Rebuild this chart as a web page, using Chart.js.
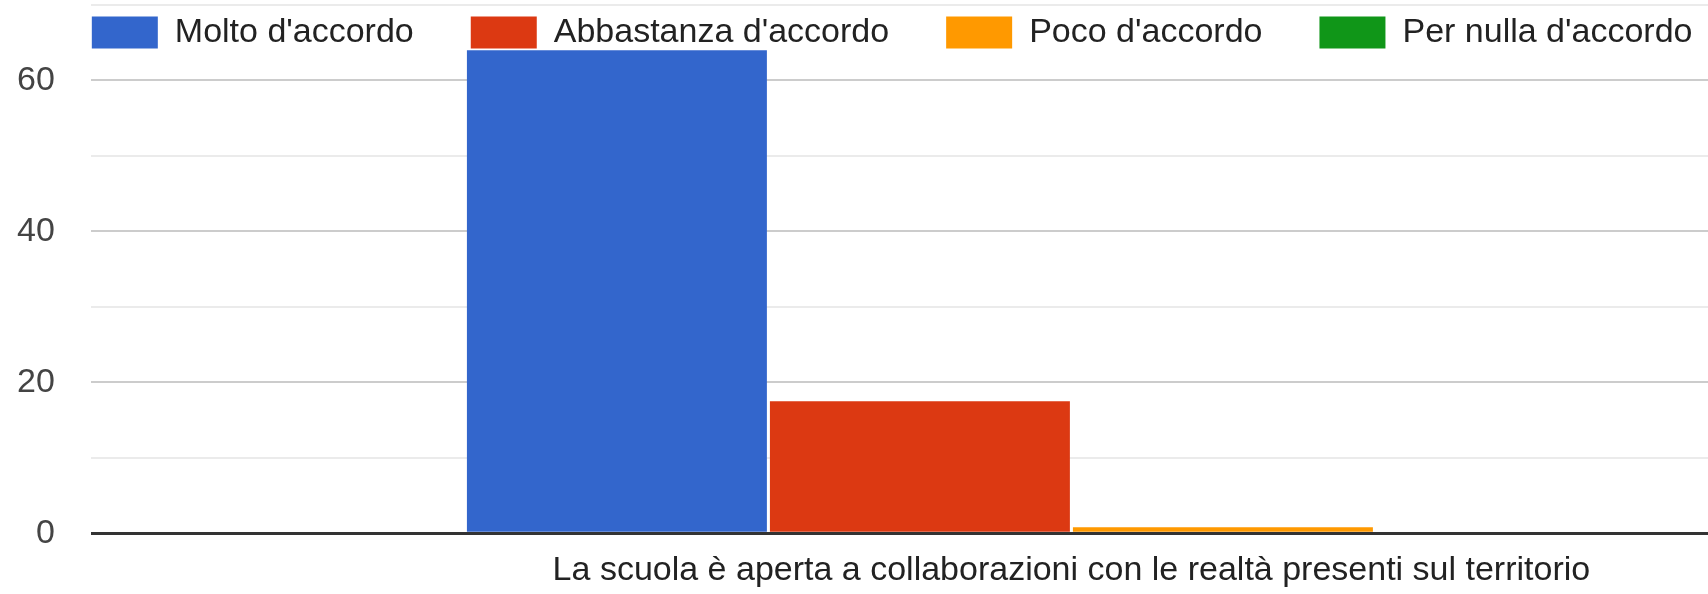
<!DOCTYPE html>
<html>
<head>
<meta charset="utf-8">
<script src="https://cdn.jsdelivr.net/npm/chart.js@4"></script>
<style>
  html, body { margin: 0; padding: 0; overflow: hidden; background: #fff; }
  #wrap { width: 2052px; height: 594px; position: relative; }
</style>
</head>
<body>
<div id="wrap"><canvas id="grafico"></canvas></div>
<script>
// dati
const categorie = ["La scuola è aperta a collaborazioni con le realtà presenti sul territorio"];
const serie = ["Molto d'accordo", "Abbastanza d'accordo", "Poco d'accordo", "Per nulla d'accordo"];
const molto = [64];
const abbastanza = [17.5];
const poco = [0.8];
const perNulla = [0];
const yMax = 70;
const yPasso = 10;

const colori = ["#3366cc", "#dc3912", "#ff9900", "#109618"];
const valori = [molto, abbastanza, poco, perNulla];
const font = "'Liberation Sans', Arial, sans-serif";

// legenda orizzontale dentro l'area del grafico, allineata a sinistra
const spostaLegenda = {
    id: "spostaLegenda",
    beforeUpdate(chart) {
        if (chart.legend) chart.legend.isHorizontal = () => true;
    },
    afterLayout(chart) {
        const lg = chart.legend;
        const pad = lg.options.labels.padding;
        lg.left = chart.chartArea.left + 1 - pad;
        lg.top = chart.chartArea.top + 10.5 - pad;
    }
};

new Chart(document.getElementById("grafico"), {
    type: "bar",
    data: {
        labels: categorie,
        datasets: serie.map((nome, i) => ({
            label: nome,
            data: valori[i],
            backgroundColor: colori[i],
            borderWidth: 0,
            categoryPercentage: 0.618,
            barPercentage: 0.99
        }))
    },
    options: {
        responsive: true,
        maintainAspectRatio: false,
        animation: false,
        layout: { padding: { left: 17, top: 5, right: 0, bottom: 2.5 } },
        plugins: {
            tooltip: { enabled: false },
            legend: {
                position: "chartArea",
                align: "start",
                labels: {
                    boxWidth: 66,
                    boxHeight: 32,
                    padding: 57,
                    color: "#222",
                    font: { family: font, size: 34 }
                }
            }
        },
        scales: {
            x: {
                grid: { display: false, drawTicks: false },
                border: { display: false },
                ticks: {
                    color: "#222",
                    padding: 17.5,
                    maxRotation: 0,
                    minRotation: 0,
                    font: { family: font, size: 34 }
                },
                afterFit(scale) {
                    // il padding delle etichette viene contato due volte
                    scale.height -= scale.options.ticks.padding;
                    scale.paddingLeft = 0;
                    scale.paddingRight = 0;
                }
            },
            y: {
                min: 0,
                max: yMax,
                border: { display: false },
                grid: {
                    drawTicks: false,
                    color: ctx => ctx.tick.value === 0 ? "#333" : (ctx.tick.value % 20 === 0 ? "#cccccc" : "#ebebeb"),
                    lineWidth: ctx => ctx.tick.value === 0 ? 3 : 2
                },
                ticks: {
                    stepSize: yPasso,
                    padding: 36,
                    color: "#444",
                    font: { family: font, size: 34 },
                    callback: v => v % 20 === 0 ? v : ""
                },
                afterFit(scale) {
                    scale.width -= scale.options.ticks.padding;
                    scale.paddingTop = 0;
                    scale.paddingBottom = 0;
                }
            }
        }
    },
    plugins: [spostaLegenda]
});
</script>
</body>
</html>
